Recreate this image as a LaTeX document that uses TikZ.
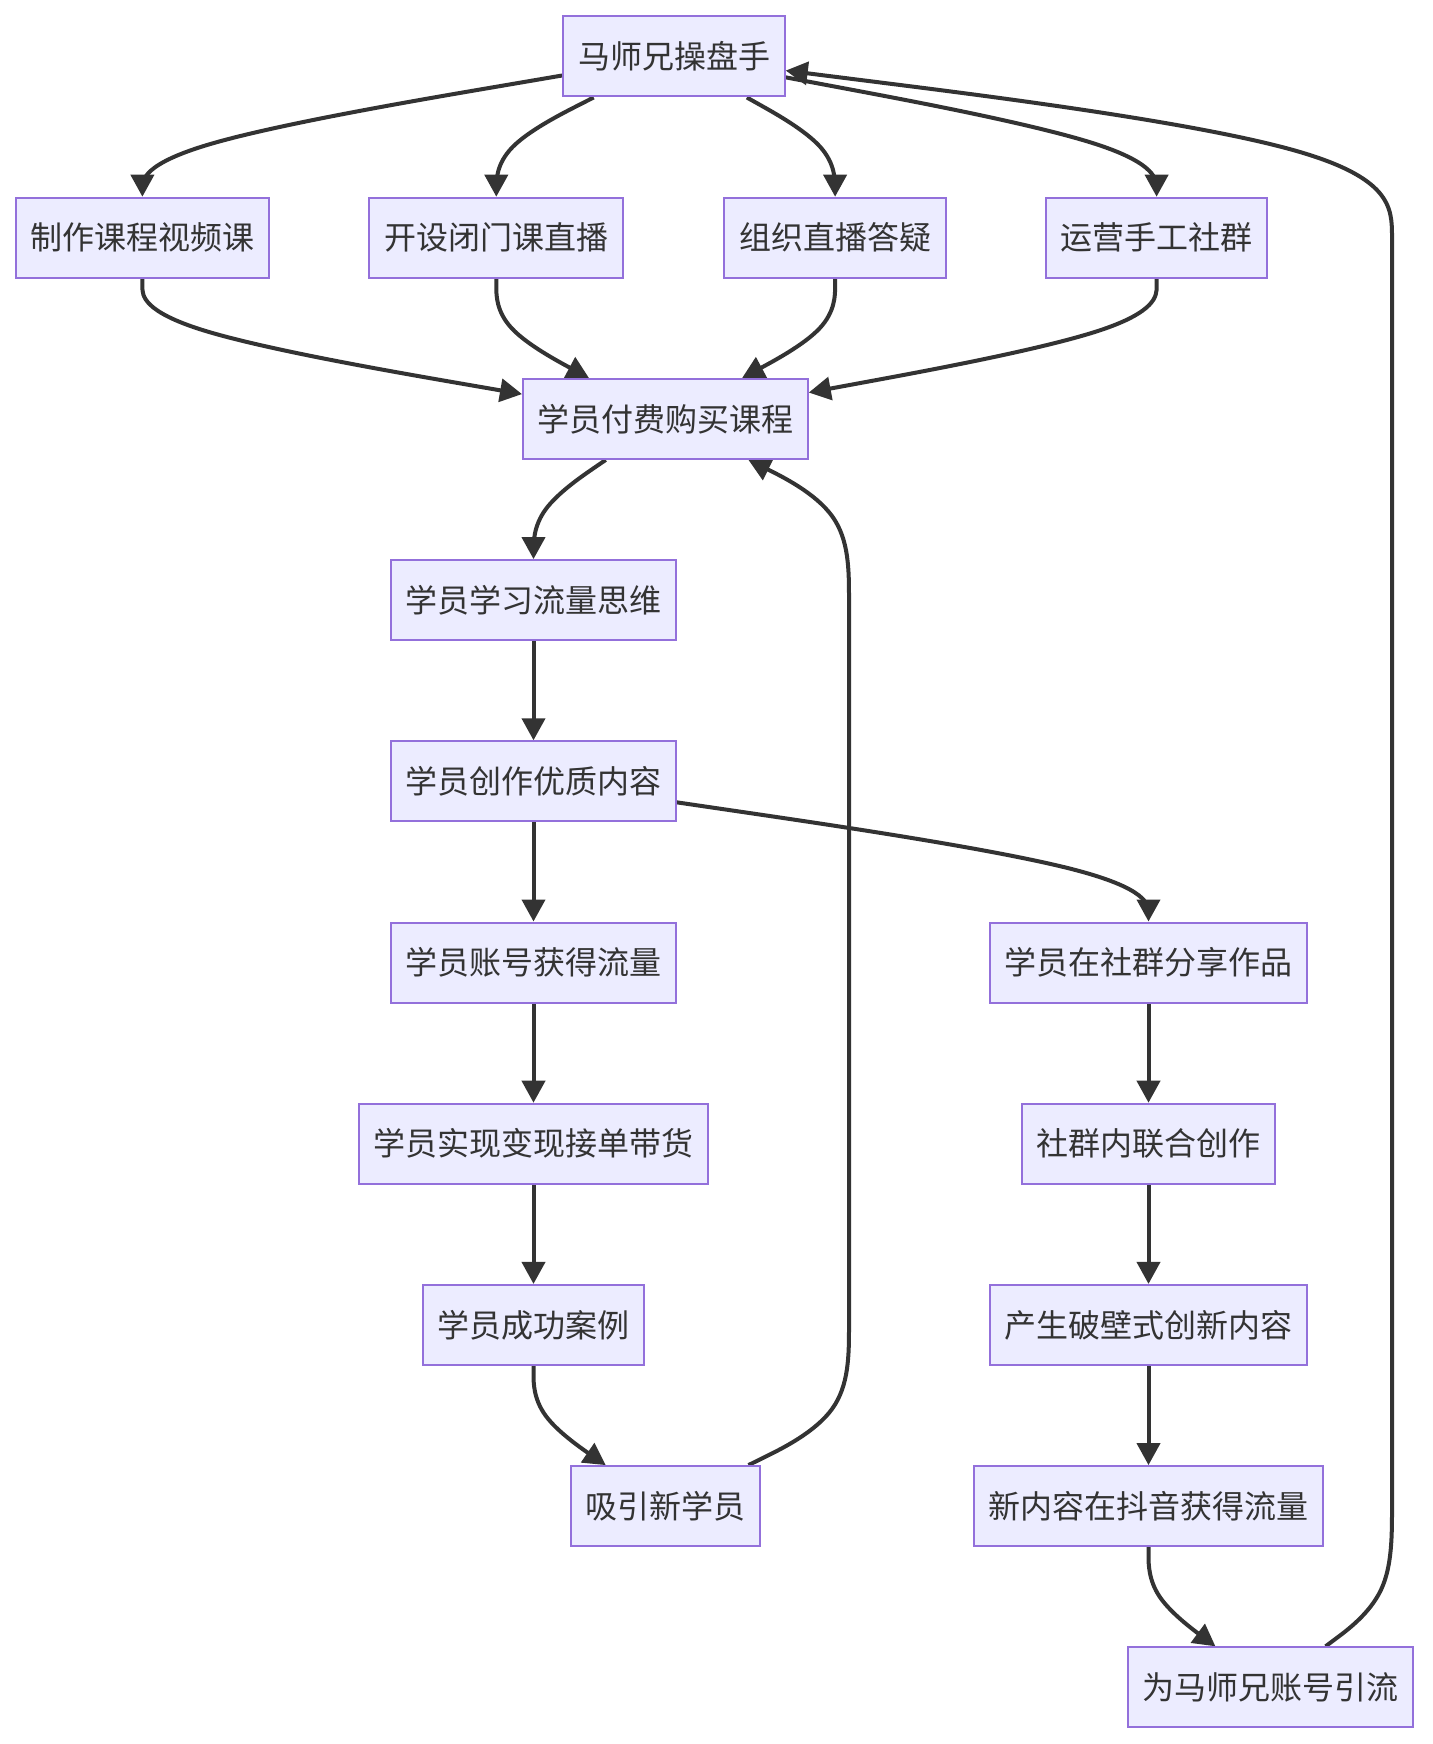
\documentclass[tikz,border=0pt]{standalone}
\usepackage{fontspec}
\newfontfamily\cjk{Noto Sans CJK SC}
\usetikzlibrary{arrows.meta,calc}
\definecolor{mmfill}{HTML}{ECECFF}
\definecolor{mmborder}{HTML}{9370DB}
\definecolor{mmline}{HTML}{333333}
\pgfdeclarelayer{bg}
\pgfdeclarelayer{edges}
\pgfsetlayers{bg,edges,main}
% basis curve through: border of #1, dummy point #2, border of #3
\newcommand\bedge[3]{%
  \path (#1) -- (#2) coordinate[pos=0] (bpa);
  \path (#2) -- (#3) coordinate[pos=1] (bpb);
  \draw[flow] (#1) -- ($(bpa)!0.1666667!(#2)$)
    .. controls ($(bpa)!0.3333333!(#2)$) and ($(bpa)!0.6666667!(#2)$)
    .. ($0.1666667*(bpa)+0.6666667*(#2)+0.1666667*(bpb)$)
    .. controls ($(#2)!0.3333333!(bpb)$) and ($(#2)!0.6666667!(bpb)$)
    .. ($(#2)!0.8333333!(bpb)$) -- (#3);
}
% long basis curve: source #1, first dummies #2 #3, last dummies #4 #5, target #6
\newcommand\bedgelong[6]{%
  \path (#1) -- (#2) coordinate[pos=0] (bpa);
  \path (#5) -- (#6) coordinate[pos=1] (bpb);
  \draw[flow] (#1) -- ($(bpa)!0.1666667!(#2)$)
    .. controls ($(bpa)!0.3333333!(#2)$) and ($(bpa)!0.6666667!(#2)$)
    .. ($0.1666667*(bpa)+0.6666667*(#2)+0.1666667*(#3)$)
    .. controls ($(#2)!0.3333333!(#3)$) and ($(#2)!0.6666667!(#3)$)
    .. (#3) -- (#4)
    .. controls ($(#4)!0.3333333!(#5)$) and ($(#4)!0.6666667!(#5)$)
    .. ($0.1666667*(#4)+0.6666667*(#5)+0.1666667*(bpb)$)
    .. controls ($(#5)!0.3333333!(bpb)$) and ($(#5)!0.6666667!(bpb)$)
    .. ($(#5)!0.8333333!(bpb)$) -- (#6);
}
\begin{document}
\begin{tikzpicture}[x=1pt,y=-1pt,
  mbox/.style={draw=mmborder, fill=mmfill, line width=2pt, minimum height=80pt,
    inner sep=0pt, text=mmline, font=\cjk\fontsize{32}{38}\selectfont},
  flow/.style={draw=mmline, line width=4pt, -{Triangle[length=22pt,width=23pt]}}]
\begin{pgfonlayer}{bg}
\fill[white] (0,0) rectangle (1432,1744);
\end{pgfonlayer}
\useasboundingbox (0,0) rectangle (1432,1744);

% nodes
\node[mbox, minimum width=221.4pt] (A) at (674,56.5) {马师兄操盘手};
\node[mbox, minimum width=253.7pt] (B) at (142.4,237.7) {制作课程视频课};
\node[mbox, minimum width=253.7pt] (C) at (496.3,237.7) {开设闭门课直播};
\node[mbox, minimum width=221.4pt] (D) at (835.1,237.7) {组织直播答疑};
\node[mbox, minimum width=221.4pt] (E) at (1156.6,237.7) {运营手工社群};
\node[mbox, minimum width=284.8pt] (F) at (665.4,418.9) {学员付费购买课程};
\node[mbox, minimum width=284.8pt] (G) at (533.5,600.1) {学员学习流量思维};
\node[mbox, minimum width=284.8pt] (H) at (533.5,781.3) {学员创作优质内容};
\node[mbox, minimum width=284.8pt] (I) at (533.5,962.5) {学员账号获得流量};
\node[mbox, minimum width=349.8pt] (J) at (533.5,1143.7) {学员实现变现接单带货};
\node[mbox, minimum width=221.4pt] (K) at (533.5,1324.9) {学员成功案例};
\node[mbox, minimum width=189.2pt] (L) at (665.4,1506.1) {吸引新学员};
\node[mbox, minimum width=317pt] (M) at (1148.5,962.5) {学员在社群分享作品};
\node[mbox, minimum width=253.7pt] (N) at (1148.5,1143.7) {社群内联合创作};
\node[mbox, minimum width=317pt] (O) at (1148.5,1324.9) {产生破壁式创新内容};
\node[mbox, minimum width=349.8pt] (P) at (1148.5,1506.1) {新内容在抖音获得流量};
\node[mbox, minimum width=284.8pt] (Q) at (1270.7,1687.3) {为马师兄账号引流};

% edges
\begin{pgfonlayer}{edges}
\bedge{A}{142.4,147.1}{B}
\bedge{A}{496.3,147.1}{C}
\bedge{A}{835.1,147.1}{D}
\bedge{A}{1156.6,147.1}{E}
\bedge{B}{142.4,328.3}{F}
\bedge{C}{496.3,328.3}{F}
\bedge{D}{835.1,328.3}{F}
\bedge{E}{1156.6,328.3}{F}
\bedge{F}{533.5,509.5}{G}
\draw[flow] (G) -- (H);
\draw[flow] (H) -- (I);
\bedge{H}{1148.5,871.9}{M}
\draw[flow] (I) -- (J);
\draw[flow] (J) -- (K);
\bedge{K}{533.5,1415.5}{L}
\bedgelong{L}{849,1415.5}{849,1324.9}{849,600.1}{849,509.5}{F}
\draw[flow] (M) -- (N);
\draw[flow] (N) -- (O);
\draw[flow] (O) -- (P);
\bedge{P}{1148.5,1596.7}{Q}
\bedgelong{Q}{1392,1596.7}{1392,1506.1}{1392,237.7}{1392,147.1}{A}
\end{pgfonlayer}
\end{tikzpicture}
\end{document}
